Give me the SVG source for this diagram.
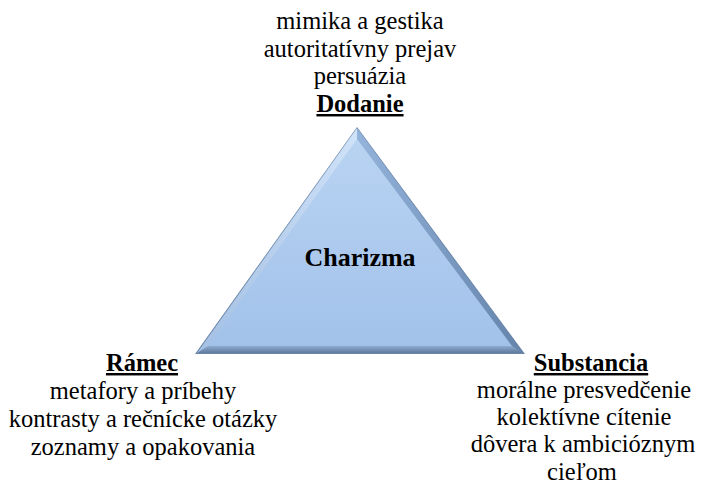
<svg xmlns="http://www.w3.org/2000/svg" width="703" height="485" viewBox="0 0 703 485">
  <defs>
    <linearGradient id="face" x1="0" y1="0" x2="0" y2="1">
      <stop offset="0" stop-color="#b9d3f2"/>
      <stop offset="1" stop-color="#a2c2ea"/>
    </linearGradient>
    <linearGradient id="bevelL" x1="0" y1="0" x2="1" y2="0">
      <stop offset="0" stop-color="#a3bfe2"/>
      <stop offset="1" stop-color="#cfe2f8"/>
    </linearGradient>
    <linearGradient id="bevelR" x1="0" y1="0" x2="1" y2="0">
      <stop offset="0" stop-color="#94b3da"/>
      <stop offset="1" stop-color="#6584ab"/>
    </linearGradient>
    <linearGradient id="bevelB" x1="0" y1="0" x2="0" y2="1">
      <stop offset="0" stop-color="#8eabd0"/>
      <stop offset="1" stop-color="#5f7a9c"/>
    </linearGradient>
  </defs>

  <!-- beveled triangle -->
  <g id="charizma">
    <polygon points="357,127 195,354 525,354" fill="#6a86aa"/>
    <polygon points="357,128 197,353 357,339" fill="url(#bevelL)"/>
    <polygon points="357,128 523,353 357,339" fill="url(#bevelR)"/>
    <polygon points="197,353 523,353 512,346 208,346" fill="url(#bevelB)"/>
    <polygon points="357,139 208,346 512,346" fill="url(#face)"/>
    <text x="360" y="266" font-family="Liberation Serif" font-size="26" font-weight="bold" text-anchor="middle">Charizma</text>
  </g>

  <!-- top corner label -->
  <g id="dodanie">
    <text x="360" y="29" font-family="Liberation Serif" font-size="24.5" text-anchor="middle">mimika a gestika</text>
    <text x="360" y="57" font-family="Liberation Serif" font-size="24.5" text-anchor="middle">autoritatívny prejav</text>
    <text x="360" y="84" font-family="Liberation Serif" font-size="24.5" text-anchor="middle">persuázia</text>
    <text x="360" y="112" font-family="Liberation Serif" font-size="24.5" text-anchor="middle" font-weight="bold" text-decoration="underline">Dodanie</text>
  </g>

  <!-- left corner label -->
  <g id="ramec">
    <text x="142" y="371" font-family="Liberation Serif" font-size="24.5" text-anchor="middle" font-weight="bold" text-decoration="underline">Rámec</text>
    <text x="143" y="399" font-family="Liberation Serif" font-size="24.5" text-anchor="middle">metafory a príbehy</text>
    <text x="143" y="427" font-family="Liberation Serif" font-size="24.5" text-anchor="middle">kontrasty a rečnícke otázky</text>
    <text x="143" y="455" font-family="Liberation Serif" font-size="24.5" text-anchor="middle">zoznamy a opakovania</text>
  </g>

  <!-- right corner label -->
  <g id="substancia">
    <text x="591" y="371" font-family="Liberation Serif" font-size="24.5" text-anchor="middle" font-weight="bold" text-decoration="underline">Substancia</text>
    <text x="584" y="398" font-family="Liberation Serif" font-size="24.5" text-anchor="middle">morálne presvedčenie</text>
    <text x="584" y="425" font-family="Liberation Serif" font-size="24.5" text-anchor="middle">kolektívne cítenie</text>
    <text x="583" y="452" font-family="Liberation Serif" font-size="24.5" text-anchor="middle">dôvera k ambicióznym</text>
    <text x="582" y="480" font-family="Liberation Serif" font-size="24.5" text-anchor="middle">cieľom</text>
  </g>

  <g id="connectors"/>
</svg>
